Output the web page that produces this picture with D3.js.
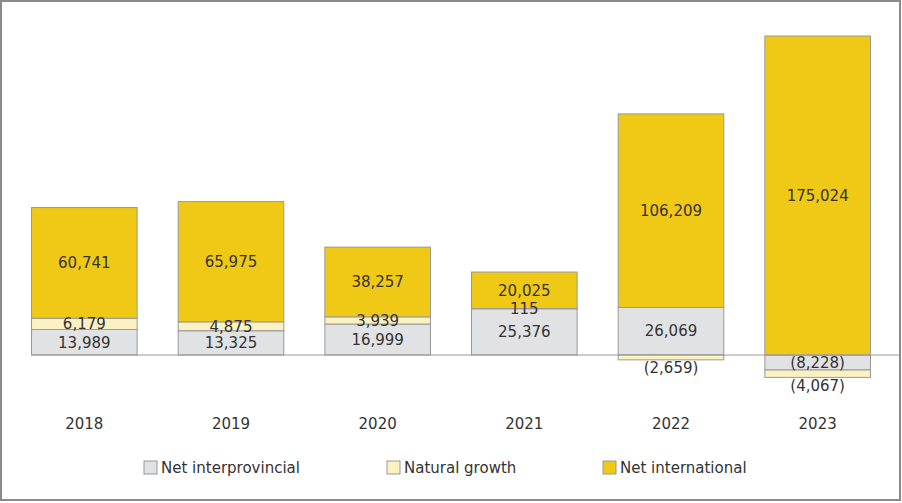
<!DOCTYPE html>
<html>
<head>
<meta charset="utf-8">
<script src="https://cdn.jsdelivr.net/npm/d3@7/dist/d3.min.js"></script>
<style>
  body { margin: 0; background: #fff; }
  text { font-family: "DejaVu Sans", "Open Sans", sans-serif; fill: #333; }
</style>
</head>
<body>
<div id="chart"></div>
<script>
// data
var years = ['2018', '2019', '2020', '2021', '2022', '2023'];
var interprovincial = [13989, 13325, 16999, 25376, 26069, -8228];
var natural = [6179, 4875, 3939, 115, -2659, -4067];
var international = [60741, 65975, 38257, 20025, 106209, 175024];
var seriesNames = ['Net interprovincial', 'Natural growth', 'Net international'];

var w = 902, h = 503;
var colors = ['#e1e2e4', '#fcf1c0', '#f0c816'];

var svg = d3.select('#chart').append('svg')
  .attr('width', w)
  .attr('height', h);

// frame
svg.append('rect')
  .attr('x', 1).attr('y', 1)
  .attr('width', 899).attr('height', 499)
  .attr('fill', 'none')
  .attr('stroke', '#8a8a8a')
  .attr('stroke-width', 2);

var x = d3.scaleBand()
  .domain(years)
  .range([11, 891])
  .paddingInner(0.28)
  .paddingOuter(0.14);

var y = d3.scaleLinear()
  .domain([0, 175024])
  .range([355, 36]);

var table = years.map(function(yr, i) {
  return {year: yr, values: [interprovincial[i], natural[i], international[i]]};
});

var fmt = d3.format(',');
function label(v) {
  return v < 0 ? '(' + fmt(-v) + ')' : fmt(v);
}

// build segments, stacking positives up and negatives down
var segs = [];
table.forEach(function(d) {
  var pos = 0, neg = 0;
  d.values.forEach(function(v, k) {
    var y0, y1;
    if (v >= 0) { y0 = pos; y1 = pos + v; pos = y1; }
    else { y0 = neg + v; y1 = neg; neg = y0; }
    segs.push({year: d.year, k: k, v: v, y0: y0, y1: y1});
  });
});

svg.selectAll('rect.seg')
  .data(segs)
  .enter().append('rect')
  .attr('class', 'seg')
  .attr('x', function(d) { return x(d.year); })
  .attr('width', x.bandwidth())
  .attr('y', function(d) { return y(d.y1); })
  .attr('height', function(d) { return y(d.y0) - y(d.y1); })
  .attr('fill', function(d) { return colors[d.k]; })
  .attr('stroke', '#999')
  .attr('stroke-width', 1);

// zero line
svg.append('line')
  .attr('x1', x(years[0]))
  .attr('x2', 899)
  .attr('y1', y(0)).attr('y2', y(0))
  .attr('stroke', '#999')
  .attr('stroke-width', 1.2);

// value labels
svg.selectAll('text.val')
  .data(segs)
  .enter().append('text')
  .attr('class', 'val')
  .attr('x', function(d) { return x(d.year) + x.bandwidth() / 2; })
  .attr('y', function(d) {
    if (d.v < 0 && d.k == 1) return y(d.y0) + 8;
    return (y(d.y0) + y(d.y1)) / 2;
  })
  .attr('dy', '0.35em')
  .attr('text-anchor', 'middle')
  .style('font-size', '15px')
  .text(function(d) { return label(d.v); });

// year labels
svg.selectAll('text.year')
  .data(years)
  .enter().append('text')
  .attr('class', 'year')
  .attr('x', function(d) { return x(d) + x.bandwidth() / 2; })
  .attr('y', 424)
  .attr('dy', '0.35em')
  .attr('text-anchor', 'middle')
  .style('font-size', '15px')
  .text(function(d) { return d; });

// legend
var legendX = [144, 387, 603];
var legend = svg.selectAll('g.legend')
  .data(seriesNames)
  .enter().append('g')
  .attr('class', 'legend')
  .attr('transform', function(d, i) { return 'translate(' + legendX[i] + ',461)'; });

legend.append('rect')
  .attr('width', 13).attr('height', 13)
  .attr('fill', function(d, i) { return colors[i]; })
  .attr('stroke', '#999')
  .attr('stroke-width', 1);

legend.append('text')
  .attr('x', 17)
  .attr('y', 7)
  .attr('dy', '0.35em')
  .style('font-size', '15px')
  .text(function(d) { return d; });
</script>
</body>
</html>
